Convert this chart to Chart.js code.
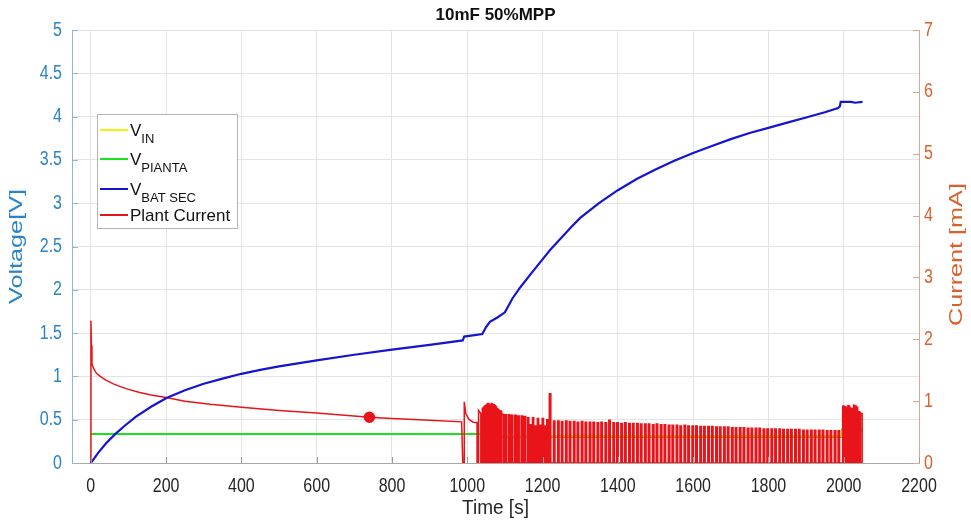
<!DOCTYPE html>
<html>
<head>
<meta charset="utf-8">
<script src="https://cdn.jsdelivr.net/npm/chart.js@4.4.1/dist/chart.umd.min.js"></script>
<style>
  html, body { margin: 0; padding: 0; background: #fff; }
</style>
</head>
<body>
<canvas id="chart" width="971" height="522"></canvas>
<script>
// ticks
var timeTicks = [0, 200, 400, 600, 800, 1000, 1200, 1400, 1600, 1800, 2000, 2200];
var voltTicks = [0, 0.5, 1, 1.5, 2, 2.5, 3, 3.5, 4, 4.5, 5];
var currTicks = [0, 1, 2, 3, 4, 5, 6, 7];

// V_IN (yellow) [s] / [V]
var vinT = [1040, 1041, 1993, 1995, 2050];
var vinV = [0.335, 0.31, 0.31, 0.37, 0.37];

// V_PIANTA (green)
var vpT = [0, 1040, 1041, 1993, 1995, 2050];
var vpV = [0.335, 0.335, 0.3, 0.3, 0.385, 0.385];

// V_BAT SEC (blue)
var vbT = [0, 10, 20, 40, 64, 90, 120, 160, 201, 250, 300, 350, 400, 450, 500, 550, 600, 700, 800, 900, 988,
  992, 1040, 1045, 1050, 1060, 1080, 1100, 1120, 1141, 1170, 1194, 1220, 1250, 1275, 1300, 1350, 1400,
  1450, 1500, 1550, 1600, 1650, 1700, 1750, 1800, 1850, 1900, 1950, 1985, 1990, 1992, 2020, 2030, 2050];
var vbV = [0, 0.06, 0.12, 0.225, 0.33, 0.43, 0.535, 0.65, 0.75, 0.84, 0.915, 0.975, 1.03, 1.075, 1.115, 1.15, 1.185, 1.25, 1.31, 1.365, 1.415,
  1.46, 1.49, 1.53, 1.57, 1.63, 1.68, 1.74, 1.9, 2.03, 2.19, 2.32, 2.46, 2.6, 2.72, 2.83, 3.0, 3.15,
  3.28, 3.39, 3.49, 3.58, 3.66, 3.74, 3.81, 3.87, 3.93, 3.99, 4.05, 4.1, 4.12, 4.17, 4.17, 4.16, 4.17];

// Plant current, first part [s] / [mA]
var curT = [0, 0.3, 1.5, 3, 8, 15, 25, 40, 60, 80, 100, 130, 160, 200, 250, 317, 400, 500, 600, 740, 800, 900, 985,
  988, 992, 992, 996, 1005, 1016, 1026, 1026, 1030, 1030, 1036, 1036];
var curV = [0, 2.3, 1.9, 1.6, 1.52, 1.45, 1.4, 1.34, 1.28, 1.23, 1.19, 1.14, 1.1, 1.06, 1.0, 0.95, 0.9, 0.85, 0.81, 0.74, 0.72, 0.69, 0.665,
  0, 0, 0.99, 0.8, 0.7, 0.66, 0.655, 0, 0, 0.85, 0.8, 0];
var markerT = 740;

// Plant current, switching pulses (start time, peak)
var pulseOn = [
  1040, 1043, 1046, 1049, 1052, 1055, 1058, 1061, 1064, 1067, 1070, 1073, 1076, 1079, 1082, 1085, 1088,
  1092, 1100, 1109, 1117, 1126, 1134, 1143, 1151,
  1160, 1166, 1173, 1179, 1186, 1192, 1199, 1205, 1211,
  1218,
  1229, 1240, 1250, 1261, 1271, 1282, 1292, 1303, 1313, 1324,
  1334, 1345, 1355, 1366, 1376, 1387, 1397, 1408, 1418, 1429,
  1439, 1450, 1460, 1471, 1481, 1492, 1502, 1513, 1523, 1534,
  1544, 1555, 1565, 1576, 1586, 1597, 1607, 1618, 1628, 1639,
  1649, 1660, 1670, 1681, 1691, 1702, 1712, 1723, 1733, 1744,
  1754, 1765, 1775, 1786, 1796, 1807, 1817, 1828, 1838, 1849,
  1859, 1870, 1880, 1891, 1901, 1912, 1922, 1933, 1943, 1954, 1964, 1975, 1985,
  1996, 1999, 2002, 2005, 2011, 2014, 2017, 2020, 2025, 2028, 2031, 2034, 2039, 2042, 2045
];
var pulsePeak = [
  0.88, 0.9, 0.92, 0.93, 0.95, 0.96, 0.96, 0.95, 0.96, 0.95, 0.94, 0.93, 0.91, 0.89, 0.88, 0.86, 0.84,
  0.79, 0.78, 0.78, 0.77, 0.77, 0.76, 0.76, 0.75,
  0.73, 0.62, 0.73, 0.6, 0.72, 0.61, 0.72, 0.6, 0.7,
  1.12,
  0.68, 0.68, 0.67, 0.68, 0.67, 0.67, 0.66, 0.67, 0.66, 0.66,
  0.66, 0.65, 0.66, 0.65, 0.69, 0.65, 0.65, 0.64, 0.65, 0.64,
  0.64, 0.64, 0.63, 0.63, 0.63, 0.62, 0.63, 0.62, 0.62, 0.61,
  0.61, 0.61, 0.6, 0.61, 0.6, 0.6, 0.6, 0.59, 0.59, 0.59,
  0.59, 0.58, 0.58, 0.58, 0.58, 0.57, 0.57, 0.57, 0.57, 0.56,
  0.56, 0.56, 0.56, 0.55, 0.55, 0.55, 0.55, 0.55, 0.54, 0.54,
  0.54, 0.54, 0.54, 0.53, 0.53, 0.53, 0.53, 0.53, 0.53, 0.52, 0.52, 0.52, 0.52,
  0.93, 0.92, 0.91, 0.9, 0.93, 0.92, 0.9, 0.88, 0.95, 0.94, 0.92, 0.9, 0.83, 0.82, 0.8
];

var blueAxis = '#2a84c6';
var orangeAxis = '#d9602a';
var textGray = '#262626';
var sans = '"Liberation Sans", Arial, Helvetica, sans-serif';

function pts(ts, vs) {
  return ts.map(function (t, i) { return { x: t, y: vs[i] }; });
}

// current trace = first part + pulses
var currentData = pts(curT, curV);
pulseOn.forEach(function (on, i) {
  var next = pulseOn[i + 1];
  var hold = next ? Math.min(4, (next - on) * 0.6) : 4;
  currentData.push({ x: on, y: 0 }, { x: on, y: pulsePeak[i] }, { x: on + hold, y: pulsePeak[i] }, { x: on + hold, y: 0 });
});

Chart.defaults.font.family = sans;

var legendRows = [
  { color: '#f2f20a', main: 'V', sub: 'IN', dy: 16 },
  { color: '#1ee01e', main: 'V', sub: 'PIANTA', dy: 45 },
  { color: '#1414d2', main: 'V', sub: 'BAT SEC', dy: 75 },
  { color: '#e8141a', main: 'Plant Current', sub: '', dy: 101 }
];

// text stretched like the source image (tall, narrow glyphs)
function stretchText(ctx, text, x, y, color, size, align, rot, sx, sy) {
  ctx.save();
  ctx.fillStyle = color;
  ctx.font = size + 'px ' + sans;
  ctx.textAlign = align;
  ctx.textBaseline = 'middle';
  ctx.translate(x, y);
  if (rot) ctx.rotate(rot);
  ctx.scale(sx, sy);
  ctx.fillText(text, 0, 0);
  ctx.restore();
}

var extras = {
  id: 'extras',
  afterDraw: function (chart) {
    var ctx = chart.ctx, a = chart.chartArea;
    var sx = chart.scales.x, sv = chart.scales.yV, si = chart.scales.yI;
    ctx.save();
    // inner tick marks
    ctx.lineWidth = 1;
    ctx.strokeStyle = '#9a9a9a';
    timeTicks.forEach(function (t) {
      var px = Math.round(sx.getPixelForValue(t)) + 0.5;
      ctx.beginPath(); ctx.moveTo(px, a.bottom); ctx.lineTo(px, a.bottom - 6); ctx.stroke();
    });
    ctx.strokeStyle = '#8fb4d6';
    voltTicks.forEach(function (v) {
      var py = Math.round(sv.getPixelForValue(v)) + 0.5;
      ctx.beginPath(); ctx.moveTo(a.left, py); ctx.lineTo(a.left + 6, py); ctx.stroke();
    });
    ctx.strokeStyle = '#dba98c';
    currTicks.forEach(function (v) {
      var py = Math.round(si.getPixelForValue(v)) + 0.5;
      ctx.beginPath(); ctx.moveTo(a.right, py); ctx.lineTo(a.right - 6, py); ctx.stroke();
    });
    ctx.restore();

    // tick labels
    timeTicks.forEach(function (t) {
      stretchText(ctx, String(t), sx.getPixelForValue(t), a.bottom + 23, textGray, 20, 'center', 0, 0.8, 1);
    });
    voltTicks.forEach(function (v) {
      stretchText(ctx, String(v), a.left - 10, sv.getPixelForValue(v), blueAxis, 20, 'right', 0, 0.8, 1);
    });
    currTicks.forEach(function (v) {
      stretchText(ctx, String(v), a.right + 5, si.getPixelForValue(v), orangeAxis, 20, 'left', 0, 0.8, 1);
    });

    // axis titles
    var mid = (a.top + a.bottom) / 2;
    stretchText(ctx, 'Voltage[V]', 17, mid, blueAxis, 18, 'center', -Math.PI / 2, 1.4, 1.05);
    stretchText(ctx, 'Current [mA]', 957, mid + 8, orangeAxis, 18, 'center', -Math.PI / 2, 1.4, 1.05);
    stretchText(ctx, 'Time [s]', (a.left + a.right) / 2, 508, textGray, 19, 'center', 0, 1, 1.1);

    // legend
    ctx.save();
    var x0 = a.left + 25, y0 = a.top + 84;
    ctx.fillStyle = '#fff';
    ctx.fillRect(x0, y0, 140, 114);
    ctx.strokeStyle = '#b5b5b5';
    ctx.lineWidth = 1;
    ctx.strokeRect(x0 + 0.5, y0 + 0.5, 140, 114);
    legendRows.forEach(function (r) {
      var ly = y0 + r.dy;
      ctx.strokeStyle = r.color;
      ctx.lineWidth = 2;
      ctx.beginPath(); ctx.moveTo(x0 + 3, ly); ctx.lineTo(x0 + 31, ly); ctx.stroke();
      ctx.fillStyle = '#111';
      ctx.textAlign = 'left';
      ctx.textBaseline = 'alphabetic';
      ctx.font = '17px ' + sans;
      if (r.sub) {
        ctx.fillText(r.main, x0 + 33, ly + 6);
        var w = ctx.measureText(r.main).width;
        ctx.font = '13px ' + sans;
        ctx.fillText(r.sub, x0 + 33 + w, ly + 13);
      } else {
        ctx.fillText(r.main, x0 + 33, ly + 6);
      }
    });
    ctx.restore();
  }
};

new Chart(document.getElementById('chart').getContext('2d'), {
  type: 'line',
  data: {
    datasets: [
      {
        label: 'V_BAT SEC', data: pts(vbT, vbV), yAxisID: 'yV', order: 0,
        borderColor: '#1414d2', borderWidth: 2.2, pointRadius: 0, tension: 0
      },
      {
        label: 'Plant Current', data: currentData, yAxisID: 'yI', order: 1,
        borderColor: '#e8141a', borderWidth: 1.5, tension: 0,
        pointRadius: function (c) { return c.raw && c.raw.x === markerT ? 5 : 0; },
        pointBackgroundColor: '#e8141a', pointBorderColor: '#e8141a'
      },
      {
        label: 'V_IN', data: pts(vinT, vinV), yAxisID: 'yV', order: 2,
        borderColor: '#e6c81e', borderWidth: 2, pointRadius: 0, tension: 0
      },
      {
        label: 'V_PIANTA', data: pts(vpT, vpV), yAxisID: 'yV', order: 3,
        borderColor: '#1ee01e', borderWidth: 2, pointRadius: 0, tension: 0
      }
    ]
  },
  options: {
    responsive: false,
    animation: false,
    devicePixelRatio: 1,
    layout: { padding: 0 },
    plugins: {
      legend: { display: false },
      tooltip: { enabled: false },
      title: {
        display: true,
        text: '10mF 50%MPP',
        fullSize: false,
        color: '#111',
        font: { size: 17, weight: 'bold' },
        padding: { top: 5, bottom: 4.6 }
      }
    },
    scales: {
      x: {
        type: 'linear',
        min: -50, max: 2200,
        afterBuildTicks: function (s) { s.ticks = timeTicks.map(function (v) { return { value: v }; }); },
        afterFit: function (s) { s.height = 59; },
        ticks: { display: false },
        grid: { color: '#e3e3e3', drawTicks: false },
        border: { color: '#a8a8a8' }
      },
      yV: {
        type: 'linear', position: 'left',
        min: 0, max: 5,
        afterBuildTicks: function (s) { s.ticks = voltTicks.map(function (v) { return { value: v }; }); },
        afterFit: function (s) { s.width = 72; },
        ticks: { display: false },
        grid: { color: '#e3e3e3', drawTicks: false },
        border: { color: '#8fb4d6' }
      },
      yI: {
        type: 'linear', position: 'right',
        min: 0, max: 7,
        afterBuildTicks: function (s) { s.ticks = currTicks.map(function (v) { return { value: v }; }); },
        afterFit: function (s) { s.width = 52; },
        ticks: { display: false },
        grid: { drawOnChartArea: false, drawTicks: false },
        border: { color: '#dba98c' }
      }
    }
  },
  plugins: [extras]
});
</script>
</body>
</html>
